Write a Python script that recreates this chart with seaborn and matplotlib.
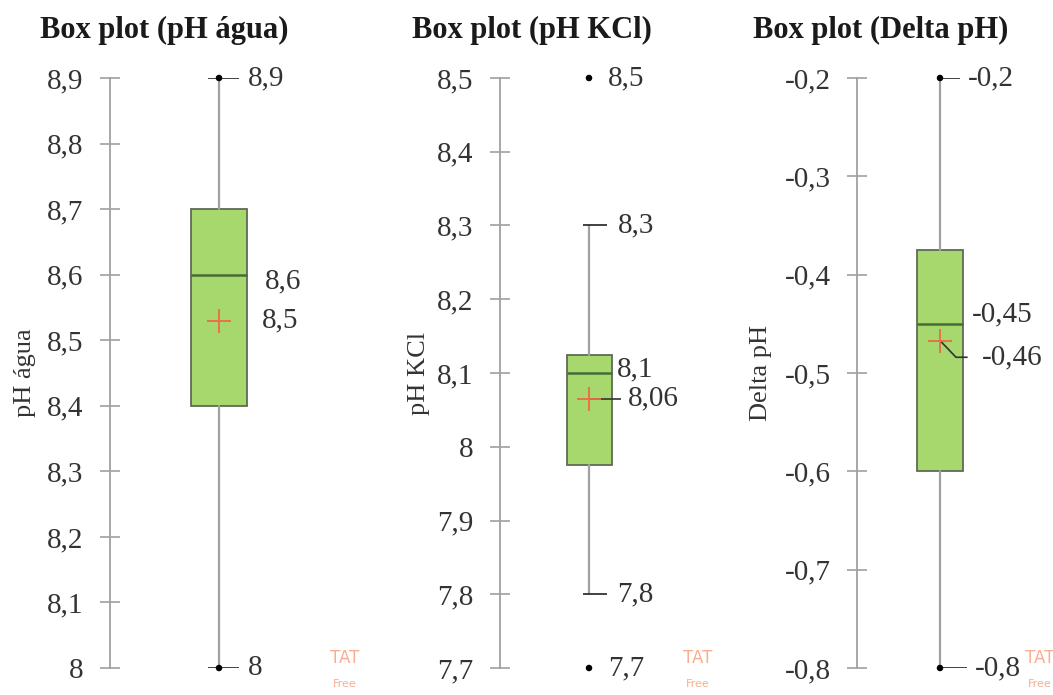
import matplotlib
matplotlib.use("Agg")
import matplotlib.pyplot as plt
import seaborn as sns
import numpy as np
import pandas as pd
from matplotlib.ticker import FuncFormatter, MultipleLocator

# summary statistics
titles = ["Box plot (pH água)", "Box plot (pH KCl)", "Box plot (Delta pH)"]
ylabels = ["pH água", "pH KCl", "Delta pH"]
q1 = [8.4, 7.975, -0.6]
medians = [8.6, 8.1, -0.45]
q3 = [8.7, 8.125, -0.375]
whis_lo = [8.0, 7.8, -0.8]
whis_hi = [8.9, 8.3, -0.2]
means = [8.53, 8.065, -0.467]
points = [[8.0, 8.9], [7.7, 8.5], [-0.8, -0.2]]
ylims = [(8.0, 8.9), (7.7, 8.5), (-0.8, -0.2)]
# value labels: (text, y value)
labels = [
    [("8,9", 8.9), ("8,6", 8.59), ("8,5", 8.53), ("8", 8.0)],
    [("8,5", 8.5), ("8,3", 8.3), ("8,1", 8.105), ("8,06", 8.065), ("7,8", 7.8), ("7,7", 7.7)],
    [("-0,2", -0.2), ("-0,45", -0.44), ("-0,46", -0.484), ("-0,8", -0.8)],
]

sns.set_theme(style="white")
plt.rcParams["font.family"] = ["Liberation Serif", "DejaVu Serif"]

W, H = 1053, 695
fig = plt.figure(figsize=(W / 100, H / 100), dpi=100)

ax_left = [110, 500, 857]
ax_w = [220, 200, 196]
box_cx = [219, 589, 940]
box_w = [56, 45, 46]
label_dx = [[29, 46, 43, 29], [19, 29, 28, 39, 28, 19], [28, 32, 42, 35]]
title_cx = [164, 532, 881]
ylabel_pad = [8, 5, 9]
mark_x = [330, 683, 1025]

green = "#a6d86e"
edge = "#5f6b55"
gray = "#a0a0a0"
txt = "#333333"


def fmt(v, pos):
    s = f"{v:.2f}".rstrip("0").rstrip(".")
    if s == "-0":
        s = "0"
    return s.replace(".", ",")


for i in range(3):
    ax = fig.add_axes([ax_left[i] / W, (H - 668) / H, ax_w[i] / W, 590 / H])
    px = 1.0 / ax_w[i]  # one pixel in x data units
    cx = (box_cx[i] - ax_left[i]) * px
    stats = [dict(med=medians[i], q1=q1[i], q3=q3[i], whislo=whis_lo[i],
                  whishi=whis_hi[i], fliers=[], mean=means[i])]
    ax.bxp(stats, positions=[cx], widths=box_w[i] * px, patch_artist=True,
           showcaps=False, showfliers=False, showmeans=False,
           boxprops=dict(facecolor=green, edgecolor=edge, linewidth=1.3),
           medianprops=dict(color="#4a6a3a", linewidth=1.8),
           whiskerprops=dict(color=gray, linewidth=1.6))
    # caps / leader lines
    if i == 0:
        ax.hlines([whis_lo[i], whis_hi[i]], cx - 11 * px, cx + 20 * px, color="#333333", lw=1.3)
    elif i == 1:
        ax.hlines([whis_lo[i], whis_hi[i]], cx - 6 * px, cx + 18 * px, color="#333333", lw=1.3)
        ax.hlines([means[i]], cx, cx + 32 * px, color="#333333", lw=1.2)
    else:
        ax.hlines([whis_hi[i]], cx, cx + 20 * px, color="#333333", lw=1.3)
        ax.hlines([whis_lo[i]], cx, cx + 27 * px, color="#333333", lw=1.3)
        ax.plot([cx, cx + 16 * px, cx + 27 * px], [means[i], -0.484, -0.484], color="#333333", lw=1.2)
    df_pts = pd.DataFrame({"x": [cx] * len(points[i]), "y": points[i]})
    sns.scatterplot(data=df_pts, x="x", y="y", ax=ax, color="black", s=22,
                    edgecolor="none", clip_on=False, zorder=5)
    df_mean = pd.DataFrame({"x": [cx], "y": [means[i]]})
    sns.scatterplot(data=df_mean, x="x", y="y", ax=ax, marker="+", s=320,
                    color="#ef6a45", linewidth=1.3, clip_on=False, zorder=6)
    for (t, v), dx in zip(labels[i], label_dx[i]):
        ax.text(cx + dx * px, v, t, fontsize=21, color=txt, va="center", ha="left",
                clip_on=False)

    ax.set_xlim(0, 1)
    ax.set_ylim(*ylims[i])
    ax.yaxis.set_major_locator(MultipleLocator(0.1))
    ax.yaxis.set_major_formatter(FuncFormatter(fmt))
    ax.set_xticks([])
    ax.set_xlabel("")
    ax.set_ylabel(ylabels[i], fontsize=19, color=txt, labelpad=ylabel_pad[i])
    ax.tick_params(axis="y", left=True, direction="inout", length=14, width=1.2,
                   color=gray, labelsize=21, labelcolor=txt, pad=12)
    sns.despine(ax=ax, top=True, right=True, bottom=True)
    ax.spines["left"].set_color(gray)
    ax.spines["left"].set_linewidth(1.3)

    fig.text(title_cx[i] / W, 1 - 30 / H, titles[i], fontsize=22, fontweight="bold",
             ha="center", va="center", color="#1a1a1a")
    # XLSTAT watermark remnant
    fig.text(mark_x[i] / W, 1 - 658 / H, "TAT", fontsize=12, color="#f8a584",
             family="DejaVu Sans", ha="left", va="center", alpha=0.9)
    fig.text((mark_x[i] + 3) / W, 1 - 684 / H, "Free", fontsize=8, color="#f8a584",
             family="DejaVu Sans", ha="left", va="center", alpha=0.9)

fig.savefig("out.png", dpi=100)
